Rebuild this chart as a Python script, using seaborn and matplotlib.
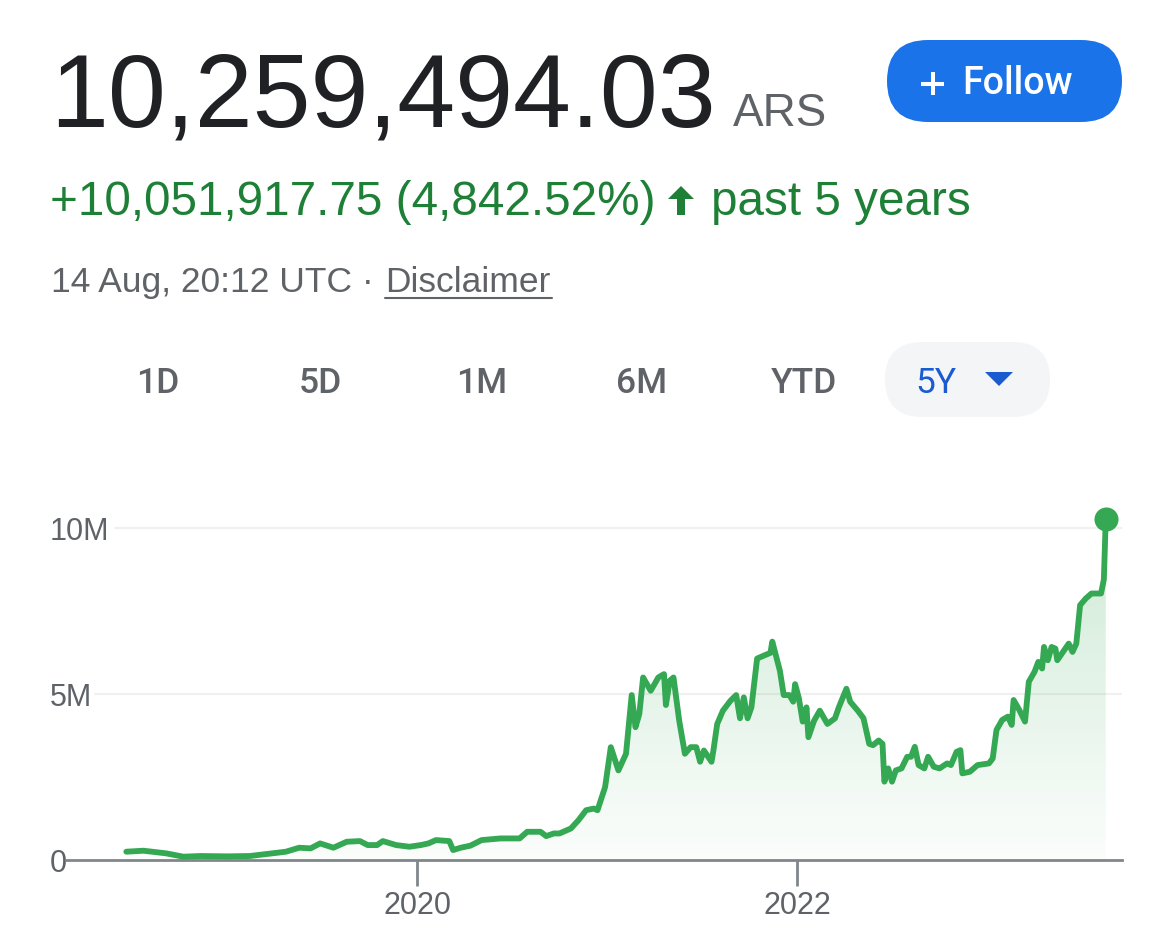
import matplotlib
matplotlib.use("Agg")
import matplotlib.pyplot as plt
import numpy as np
import pandas as pd
import seaborn as sns
from matplotlib.patches import FancyBboxPatch, Polygon

# price history (decimal year, price in millions of ARS)
years = [
    2018.47, 2018.56, 2018.68, 2018.77, 2018.86, 2019.00, 2019.12, 2019.21, 2019.31, 2019.38,
    2019.44, 2019.49, 2019.56, 2019.63, 2019.70, 2019.74, 2019.79, 2019.82, 2019.89, 2019.96,
    2020.02, 2020.06, 2020.10, 2020.17, 2020.19, 2020.23, 2020.28, 2020.34, 2020.44, 2020.54,
    2020.58, 2020.65, 2020.68, 2020.72, 2020.75, 2020.81, 2020.85, 2020.89, 2020.93, 2020.95,
    2020.99, 2021.02, 2021.06, 2021.10, 2021.13, 2021.15, 2021.17, 2021.19, 2021.23, 2021.27,
    2021.30, 2021.31, 2021.33, 2021.35, 2021.38, 2021.41, 2021.44, 2021.47, 2021.49, 2021.51,
    2021.55, 2021.56, 2021.58, 2021.61, 2021.65, 2021.68, 2021.70, 2021.72, 2021.74, 2021.76,
    2021.79, 2021.83, 2021.86, 2021.87, 2021.91, 2021.93, 2021.96, 2021.98, 2021.99, 2022.01,
    2022.03, 2022.05, 2022.06, 2022.09, 2022.12, 2022.16, 2022.20, 2022.22, 2022.26, 2022.28,
    2022.32, 2022.35, 2022.38, 2022.40, 2022.43, 2022.45, 2022.46, 2022.48, 2022.50, 2022.52,
    2022.55, 2022.58, 2022.60, 2022.62, 2022.64, 2022.67, 2022.69, 2022.72, 2022.75, 2022.79,
    2022.81, 2022.84, 2022.86, 2022.87, 2022.91, 2022.95, 2023.01, 2023.03, 2023.05, 2023.08,
    2023.11, 2023.13, 2023.14, 2023.17, 2023.20, 2023.22, 2023.25, 2023.27, 2023.29, 2023.30,
    2023.32, 2023.34, 2023.36, 2023.37, 2023.40, 2023.43, 2023.45, 2023.47, 2023.49, 2023.52,
    2023.55, 2023.60, 2023.615, 2023.625,
]
price_m = [
    0.25, 0.28, 0.20, 0.10, 0.12, 0.11, 0.12, 0.18, 0.25, 0.37,
    0.35, 0.50, 0.37, 0.55, 0.57, 0.45, 0.45, 0.57, 0.45, 0.40,
    0.45, 0.50, 0.60, 0.57, 0.30, 0.37, 0.43, 0.60, 0.65, 0.65,
    0.85, 0.85, 0.72, 0.80, 0.80, 0.95, 1.20, 1.50, 1.55, 1.50,
    2.20, 3.40, 2.70, 3.20, 4.97, 4.00, 4.40, 5.50, 5.10, 5.50,
    5.60, 4.67, 5.40, 5.50, 4.20, 3.20, 3.40, 3.40, 2.96, 3.30,
    2.96, 3.30, 4.10, 4.50, 4.80, 4.97, 4.27, 4.90, 4.27, 4.60,
    6.07, 6.17, 6.24, 6.58, 5.70, 4.97, 4.97, 4.77, 5.30, 4.87,
    4.17, 4.60, 3.70, 4.20, 4.50, 4.10, 4.27, 4.60, 5.16, 4.77,
    4.50, 4.27, 3.50, 3.46, 3.60, 3.50, 2.36, 2.76, 2.36, 2.70,
    2.76, 3.11, 3.11, 3.41, 2.86, 2.76, 3.11, 2.81, 2.76, 2.91,
    2.86, 3.26, 3.31, 2.61, 2.66, 2.86, 2.91, 3.06, 3.92, 4.22,
    4.32, 4.07, 4.82, 4.52, 4.17, 5.37, 5.67, 5.97, 5.77, 6.42,
    6.02, 6.42, 6.37, 6.02, 6.27, 6.52, 6.27, 6.52, 7.68, 7.88,
    8.03, 8.03, 8.45, 10.26,
]
y_ticks = [0, 5, 10]
y_tick_labels = ["0", "5M", "10M"]
x_ticks = [2020, 2022]
x_tick_labels = ["2020", "2022"]
ranges = ["1D", "5D", "1M", "6M", "YTD"]

price_text = "10,259,494.03"
currency = "ARS"
change_text = "+10,051,917.75 (4,842.52%)"
period_text = "past 5 years"
stamp_text = "14 Aug, 20:12 UTC · "

GREEN = "#34a853"
DARK_GREEN = "#1e8037"
GREY = "#5f6368"
BLUE = "#1a73e8"

sns.set_style("white")
plt.rcParams["font.family"] = ["Liberation Sans", "DejaVu Sans"]

df = pd.DataFrame({"year": years, "price": price_m})

W, H = 1170, 946
fig = plt.figure(figsize=(W / 100, H / 100), dpi=100)

# chart area
ax = fig.add_axes([66 / W, (H - 860) / H, 1056 / W, 380 / H])
x_lo, x_hi = 2018.1526, 2023.7105
ax.set_xlim(x_lo, x_hi)
ax.set_ylim(0, 11.45)

# gradient fill under the line
fill = ax.fill_between(df["year"], df["price"], 0, color="none", lw=0)
top = df["price"].max()
grad = np.zeros((256, 1, 4))
grad[..., :3] = matplotlib.colors.to_rgb(GREEN)
grad[:, 0, 3] = np.linspace(0.24, 0.02, 256)
im = ax.imshow(grad, extent=[x_lo, x_hi, 0, top], origin="upper",
               aspect="auto", zorder=1)
im.set_clip_path(fill.get_paths()[0], transform=ax.transData)

for val, start in [(5, 95), (10, 115)]:
    ax.axhline(val, xmin=(start - 66) / 1056, xmax=1, color="#f0f0f0", lw=1.5, zorder=0)

sns.lineplot(data=df, x="year", y="price", ax=ax, color=GREEN, lw=4.2, zorder=3)
ax.scatter(df["year"].iloc[-1], df["price"].iloc[-1], s=300, color=GREEN,
           zorder=4, linewidths=0)

ax.set_xlabel("")
ax.set_ylabel("")
for side in ["top", "right", "left"]:
    ax.spines[side].set_visible(False)
ax.spines["bottom"].set_color("#80868b")
ax.spines["bottom"].set_linewidth(2)

ax.set_yticks(y_ticks)
ax.set_yticklabels(y_tick_labels)
ax.tick_params(axis="y", length=0, pad=11.5, labelsize=22, labelcolor=GREY)
for lbl in ax.get_yticklabels():
    lbl.set_horizontalalignment("left")

ax.set_xticks(x_ticks)
ax.set_xticklabels(x_tick_labels)
ax.tick_params(axis="x", direction="out", length=19, width=2, color="#80868b",
               pad=3, labelsize=22, labelcolor=GREY, bottom=True)

# header drawn on a pixel-space overlay
hx = fig.add_axes([0, 0, 1, 1], zorder=-1)
hx.set_xlim(0, W)
hx.set_ylim(H, 0)
hx.axis("off")

hx.text(50, 127, price_text, fontsize=75, color="#202124", va="baseline")
hx.text(733, 126, currency, fontsize=33, color=GREY, va="baseline")

hx.add_patch(FancyBboxPatch((887, 40), 235, 82, boxstyle="round,pad=0,rounding_size=41",
                            fc=BLUE, ec="none"))
hx.plot([921, 944], [84, 84], color="white", lw=2.9, solid_capstyle="butt")
hx.plot([932.5, 932.5], [72.5, 95.5], color="white", lw=2.9, solid_capstyle="butt")
hx.text(962, 93.5, "Follow", fontsize=27, color="white", va="baseline",
        family=["Roboto", "DejaVu Sans"], fontweight="medium")

hx.text(50, 215, change_text, fontsize=34.3, color=DARK_GREEN, va="baseline")
hx.add_patch(Polygon([(668, 199), (681, 186), (694, 199), (685, 199), (685, 215),
                      (677, 215), (677, 199)], closed=True, fc=DARK_GREEN, ec="none"))
hx.text(711, 215, period_text, fontsize=34.3, color=DARK_GREEN, va="baseline")

hx.text(51, 292, stamp_text, fontsize=25.5, color=GREY, va="baseline")
hx.text(385, 292, "Disclaimer", fontsize=25.5, color=GREY, va="baseline")
hx.plot([385, 552], [298.5, 298.5], color=GREY, lw=1.5)

for label, cx in zip(ranges, [158, 320, 482, 642, 804]):
    hx.text(cx, 393, label, fontsize=25.5, color=GREY, ha="center", va="baseline",
            family=["Roboto", "DejaVu Sans"], fontweight="medium")

hx.add_patch(FancyBboxPatch((885, 342), 165, 75, boxstyle="round,pad=0,rounding_size=37.5",
                            fc="#f4f5f7", ec="none"))
hx.text(915, 393, "5Y", fontsize=25.5, color="#1a5bd0", va="baseline",
        family=["Roboto", "DejaVu Sans"])
hx.add_patch(Polygon([(985, 372), (1013, 372), (999, 386)], closed=True,
                     fc="#1a5bd0", ec="none"))

fig.savefig("out.png", dpi=100, facecolor="white")
